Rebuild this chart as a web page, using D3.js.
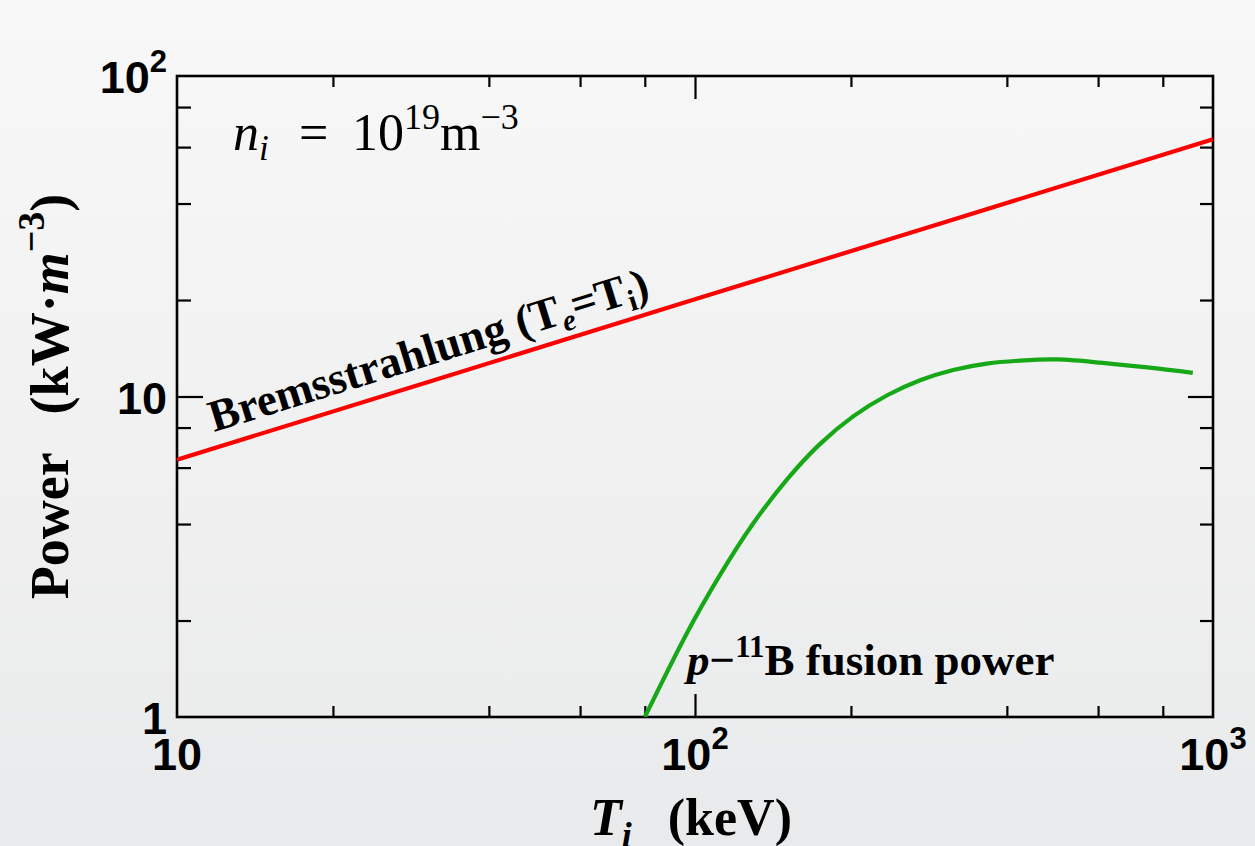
<!DOCTYPE html>
<html lang="en">
<head>
<meta charset="utf-8">
<title>Bremsstrahlung vs p-11B fusion power</title>
<script src="https://d3js.org/d3.v7.min.js"></script>
<style type="text/css">
  html, body { margin: 0; padding: 0; }
  text { fill: #000; }
</style>
</head>
<body>
<script type="text/javascript">
// Data
var bremT = [10, 30, 100, 300, 1000];           // keV
var bremP = [6.35, 11.0, 20.1, 34.8, 63.5];     // kW/m^3
var fusT  = [80, 96, 112, 129, 151, 174, 202, 235, 272, 315, 366, 424, 500, 605, 755, 914];
var fusP  = [1.0, 1.8, 2.79, 3.98, 5.54, 7.09, 8.67, 10.09, 11.24, 12.1, 12.67, 12.94, 13.05, 12.75, 12.3, 11.85];
var xMinor = [20, 40, 60, 80, 200, 400, 600, 800];
var xMajor = [100];
var yMinor = [2, 4, 6, 8, 20, 40, 60, 80];
var yMajor = [10];
var xLabels = [{v: 10, base: "10", sup: ""}, {v: 100, base: "10", sup: "2"}, {v: 1000, base: "10", sup: "3"}];
var yLabels = [{v: 1, base: "1", sup: ""}, {v: 10, base: "10", sup: ""}, {v: 100, base: "10", sup: "2"}];

var w = 1255, h = 846;
var pLeft = 177, pRight = 1213, pTop = 76, pBottom = 717;

var svg = d3.select("body").append("svg").attr("width", w).attr("height", h);

// background
var defs = svg.append("defs");
var grad = defs.append("linearGradient").attr("id", "bg")
  .attr("x1", 0).attr("y1", 0).attr("x2", 0).attr("y2", 1);
grad.append("stop").attr("offset", "0%").attr("stop-color", "#f8f8f8");
grad.append("stop").attr("offset", "100%").attr("stop-color", "#e9eaeb");
svg.append("rect").attr("width", w).attr("height", h).attr("fill", "url(#bg)");

defs.append("clipPath").attr("id", "plot")
  .append("rect").attr("x", pLeft).attr("y", pTop)
  .attr("width", pRight - pLeft).attr("height", pBottom - pTop);

var x = d3.scaleLog().domain([10, 1000]).range([pLeft, pRight]);
var y = d3.scaleLog().domain([1, 100]).range([pBottom, pTop]);

// ticks (all inward)
function ticks(axisFn, scale, vals, len, tx, ty) {
  var g = svg.append("g").attr("transform", "translate(" + tx + "," + ty + ")")
    .call(axisFn(scale).tickValues(vals).tickSize(len).tickFormat(""));
  g.select(".domain").remove();
  g.selectAll(".tick line").attr("stroke", "#000").attr("stroke-width", 2.2);
}
ticks(d3.axisBottom, x, xMinor, -11, 0, pBottom);
ticks(d3.axisBottom, x, xMajor, -23, 0, pBottom);
ticks(d3.axisTop, x, xMinor, -11, 0, pTop);
ticks(d3.axisTop, x, xMajor, -23, 0, pTop);
ticks(d3.axisLeft, y, yMinor, -14, pLeft, 0);
ticks(d3.axisLeft, y, yMajor, -26, pLeft, 0);
ticks(d3.axisRight, y, yMinor, -13, pRight, 0);
ticks(d3.axisRight, y, yMajor, -25, pRight, 0);

// frame
svg.append("rect").attr("x", pLeft).attr("y", pTop)
  .attr("width", pRight - pLeft).attr("height", pBottom - pTop)
  .attr("fill", "none").attr("stroke", "#000").attr("stroke-width", 2.6);

// tick labels
var sans = "'Liberation Sans', Arial, sans-serif";
xLabels.forEach(function (d) {
  var t = svg.append("text").attr("x", x(d.v)).attr("y", pBottom + 53)
    .attr("text-anchor", "middle").attr("font-family", sans)
    .attr("font-weight", "bold").attr("font-size", 45);
  t.append("tspan").text(d.base);
  if (d.sup) t.append("tspan").attr("font-size", 31).attr("dy", -21).text(d.sup);
});
yLabels.forEach(function (d) {
  var t = svg.append("text").attr("x", 167).attr("y", y(d.v) + 17)
    .attr("text-anchor", "end").attr("font-family", sans)
    .attr("font-weight", "bold").attr("font-size", 45);
  t.append("tspan").text(d.base);
  if (d.sup) t.append("tspan").attr("font-size", 31).attr("dy", -21).text(d.sup);
});

// curves
var line = d3.line().x(function (d) { return x(d[0]); }).y(function (d) { return y(d[1]); });
var plot = svg.append("g").attr("clip-path", "url(#plot)");
plot.append("path").datum(d3.zip(bremT, bremP))
  .attr("d", line).attr("fill", "none").attr("stroke", "#ff0000").attr("stroke-width", 4.2);
plot.append("path").datum(d3.zip(fusT, fusP))
  .attr("d", line.curve(d3.curveNatural))
  .attr("fill", "none").attr("stroke", "#16a816").attr("stroke-width", 4.2);

var serif = "'Liberation Serif', 'Times New Roman', serif";

// Bremsstrahlung label along the red line
var x0 = x(bremT[0]), y0 = y(bremP[0]);
var x1 = x(bremT[bremT.length - 1]), y1 = y(bremP[bremP.length - 1]);
var ang = Math.atan2(y1 - y0, x1 - x0) * 180 / Math.PI;
var bt = svg.append("text")
  .attr("transform", "translate(214,432) rotate(" + ang + ")")
  .attr("font-family", serif).attr("font-weight", "bold").attr("font-size", 45);
bt.append("tspan").text("Bremsstrahlung (");
bt.append("tspan").text("T");
bt.append("tspan").attr("font-style", "italic").attr("font-size", 30).attr("dy", 8).text("e");
bt.append("tspan").attr("dy", -8).text("=T");
bt.append("tspan").attr("font-size", 30).attr("dy", 8).text("i");
bt.append("tspan").attr("dy", -8).text(")");

// fusion label
var ft = svg.append("text").attr("x", 687).attr("y", 675)
  .attr("font-family", serif).attr("font-weight", "bold").attr("font-size", 45);
ft.append("tspan").attr("font-style", "italic").text("p");
ft.append("tspan").text("\u2212");
ft.append("tspan").attr("font-size", 31).attr("dy", -18).text("11");
ft.append("tspan").attr("dy", 18).text("B fusion power");

// density annotation
var nt = svg.append("text").attr("y", 150)
  .attr("font-family", serif).attr("font-size", 52);
nt.append("tspan").attr("x", 233).attr("font-style", "italic").text("n");
nt.append("tspan").attr("font-style", "italic").attr("font-size", 35).attr("dy", 10).text("i");
nt.append("tspan").attr("x", 299).attr("dy", -10).text("=");
nt.append("tspan").attr("x", 352).text("10");
nt.append("tspan").attr("font-size", 36).attr("dy", -21).text("19");
nt.append("tspan").attr("x", 440).attr("dy", 21).text("m");
nt.append("tspan").attr("font-size", 36).attr("dy", -21).text("\u22123");

// axis titles
var xt = svg.append("text").attr("x", 590).attr("y", 835)
  .attr("font-family", serif).attr("font-weight", "bold").attr("font-size", 52);
xt.append("tspan").attr("font-style", "italic").text("T");
xt.append("tspan").attr("font-style", "italic").attr("font-size", 36).attr("dy", 12).text("i");
xt.append("tspan").attr("dy", -12).attr("dx", 36).text("(keV)");

var yt = svg.append("text")
  .attr("transform", "translate(68," + ((pTop + pBottom) / 2) + ") rotate(-90)")
  .attr("text-anchor", "middle")
  .attr("font-family", serif).attr("font-weight", "bold").attr("font-size", 54);
yt.append("tspan").text("Power");
yt.append("tspan").attr("dx", 38).text("(kW\u00b7");
yt.append("tspan").attr("font-style", "italic").text("m");
yt.append("tspan").attr("font-size", 38).attr("dy", -24).text("\u22123");
yt.append("tspan").attr("dy", 24).text(")");
</script>
</body>
</html>
